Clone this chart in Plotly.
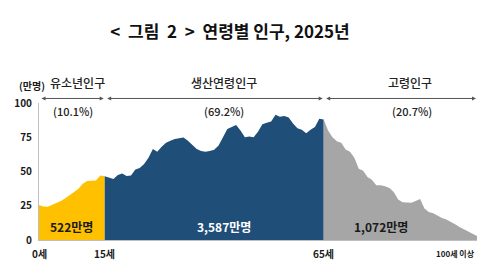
import plotly.graph_objects as go

# ---- data (만명) ----
ages_youth = list(range(0, 16))
pop_youth = [25.5, 24.5, 24.2, 25.5, 27, 28.5, 30.5, 32.5, 35, 37.5, 41, 43, 43.5, 43.5, 47, 46.5]

ages_work = list(range(15, 66))
pop_work = [46.5, 45.5, 44.5, 47.5, 48.5, 46.7, 47, 51.5, 52.5, 55.5,
             60, 66.5, 64.5, 68, 71, 72.5, 73.7, 74.2, 74.8, 72.5,
             69.5, 66.5, 65, 64.5, 65, 65.8, 69, 75, 81, 82.5,
             84, 80, 75, 75.5, 75, 79, 84.5, 85.5, 86.5, 91.5,
             90, 90.5, 89.5, 85, 81.5, 80.5, 78, 80.5, 82.5, 88.5, 88]

ages_old = list(range(65, 101))
pop_old = [88, 80, 75, 72, 71, 66, 64.5, 60, 52, 50.5,
           46, 44, 40, 40, 39.3, 38, 35, 29.5, 27.5, 27.2,
           27.2, 28.5, 30, 23, 20.5, 19.5, 17.5, 16, 15, 13.5,
           11.5, 9.5, 8, 6, 4.5, 3]

group_names = ["유소년인구", "생산연령인구", "고령인구"]
group_shares = ["(10.1%)", "(69.2%)", "(20.7%)"]
group_totals = ["522만명", "3,587만명", "1,072만명"]
group_bounds = [(0, 15), (15, 65), (65, 100)]
x_labels = ["0세", "15세", "65세", "100세 이상"]
x_label_ages = [0, 15, 65, 100]
y_ticks = [0, 25, 50, 75, 100]

colors = ["#FFC000", "#1F4E79", "#A6A6A6"]
FONT = "Noto Sans CJK KR"
NB = "\u00a0"
title_text = f"<{NB} 그림{NB} 2{NB} >{NB} 연령별 인구, 2025년"

fig = go.Figure()
for xs, ys, c in [(ages_youth, pop_youth, colors[0]),
                  (ages_work, pop_work, colors[1]),
                  (ages_old, pop_old, colors[2])]:
    fig.add_trace(go.Scatter(x=xs, y=ys, mode="lines", fill="tozeroy",
                             line=dict(width=0, color=c), fillcolor=c,
                             hoverinfo="skip", showlegend=False))

name_shift = [6, 10, 10]
share_shift = [1, 10, 12]
total_shift = [0, 10, -19]

ann = []
for i, ((a0, a1), name, share, total, c) in enumerate(zip(group_bounds, group_names, group_shares, group_totals, colors)):
    ann.append(dict(x=a1, y=1.033, xref="x", yref="paper", ax=a0, ay=0, axref="x", ayref="pixel",
                    text="", showarrow=True, arrowhead=2, arrowside="end+start",
                    arrowsize=0.8, arrowwidth=1, arrowcolor="#555555", standoff=1, startstandoff=1))
    mid = (a0 + a1) / 2
    ann.append(dict(x=mid, y=1.146, xref="x", yref="paper", text=name, showarrow=False,
                    xshift=name_shift[i], yanchor="middle",
                    font=dict(family=FONT, size=12, weight=500, color="#222222")))
    ann.append(dict(x=mid, y=0.94, xref="x", yref="paper", text=share, showarrow=False,
                    xshift=share_shift[i], yanchor="middle",
                    font=dict(family=FONT, size=11, weight=500, color="#222222")))
    ann.append(dict(x=mid, y=0.10, xref="x", yref="paper", text=total, showarrow=False,
                    xshift=total_shift[i], yanchor="middle",
                    font=dict(family=FONT, size=12, weight="bold",
                              color="#FFFFFF" if c == colors[1] else "#1a1a1a")))

for a, t in zip(x_label_ages, x_labels):
    xa = "right" if a == 100 else "center"
    ann.append(dict(x=a, y=-0.095, xref="x", yref="paper", text=t, showarrow=False,
                    xanchor=xa, yanchor="middle",
                    font=dict(family=FONT, size=10 if a < 100 else 8, weight="bold", color="#1a1a1a")))

ann.append(dict(x=-0.05, y=1.13, xref="paper", yref="paper", text="(만명)", showarrow=False,
                yanchor="middle",
                font=dict(family=FONT, size=10, weight="bold", color="#1a1a1a")))

fig.update_layout(
    width=493, height=268,
    margin=dict(l=39, r=16, t=103, b=28),
    paper_bgcolor="white", plot_bgcolor="white",
    title=dict(text=title_text, x=230 / 493, xanchor="center", xref="container",
               y=1 - 32 / 268, yanchor="middle", yref="container",
               font=dict(family=FONT, size=17, weight="bold", color="#111111")),
    xaxis=dict(range=[0, 100], showgrid=False, zeroline=False, showticklabels=False,
               ticks="", showline=True, linecolor="#BFBFBF", linewidth=1),
    yaxis=dict(range=[0, 100], tickvals=y_ticks, showgrid=False, zeroline=False,
               showline=True, linecolor="#BFBFBF", linewidth=1, ticks="",
               tickfont=dict(family=FONT, size=10, weight="bold", color="#1a1a1a"), ticklabelstandoff=4),
    annotations=ann,
)

fig.write_html("out.html")
